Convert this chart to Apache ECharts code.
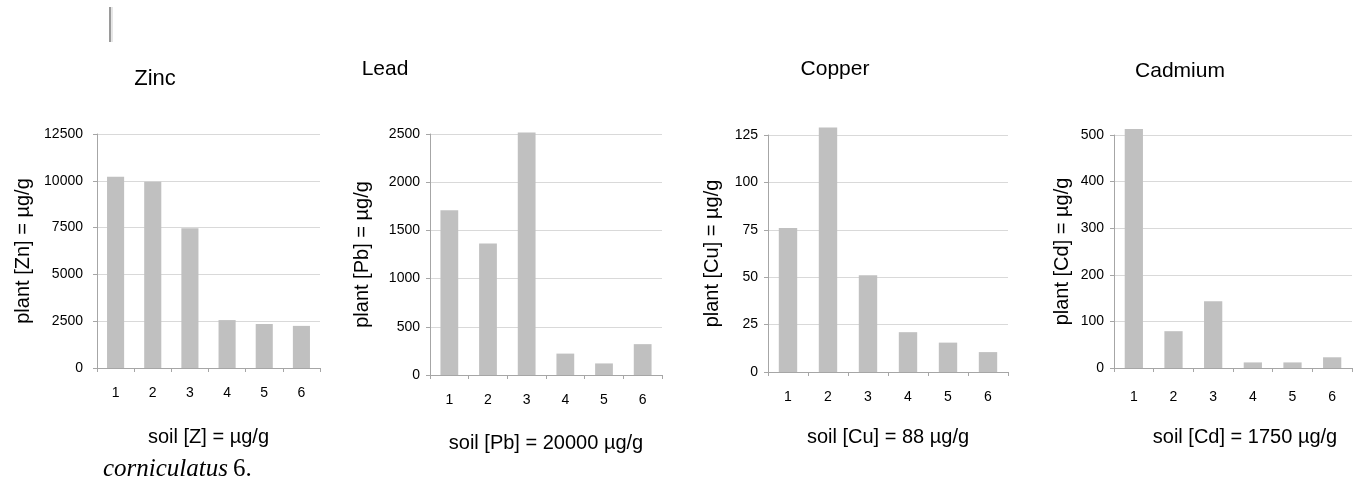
<!DOCTYPE html>
<html>
<head>
<meta charset="utf-8">
<script src="https://cdn.jsdelivr.net/npm/echarts@6/dist/echarts.min.js"></script>
<style>html,body{margin:0;padding:0;background:#fff}#c{width:1356px;height:485px}</style>
</head>
<body>
<div id="c"></div>
<script>
const categories = ['1', '2', '3', '4', '5', '6'];
const titles = ['Zinc', 'Lead', 'Copper', 'Cadmium'];
const yNames = ['plant [Zn] = µg/g', 'plant [Pb] = µg/g', 'plant [Cu] = µg/g', 'plant [Cd] = µg/g'];
const xNames = ['soil [Z] = µg/g', 'soil [Pb] = 20000 µg/g', 'soil [Cu] = 88 µg/g', 'soil [Cd] = 1750 µg/g'];
const zinc = [10220, 9950, 7460, 2560, 2350, 2250];
const lead = [1710, 1365, 2515, 222, 120, 320];
const copper = [76, 129, 51, 21, 15.5, 10.5];
const cadmium = [513, 79, 143, 12, 12, 23];
const yMax = [12500, 2500, 125, 500];
const yStep = [2500, 500, 25, 100];

const seriesData = [zinc, lead, copper, cadmium];
const FONT = '"Liberation Sans", Arial, Helvetica, sans-serif';

const grids = [
  {left: 97, top: 134, width: 223, height: 234},
  {left: 430, top: 134, width: 232, height: 241},
  {left: 768, top: 135, width: 240, height: 237},
  {left: 1114, top: 135, width: 238, height: 233}
];
const yNameGap = [64, 58, 46, 42];
const xNameGap = [59, 58, 55, 59];
const xLabelMargin = [18, 18, 18, 22];
const xNamePad = [[0,0,0,0],[0,0,0,0],[0,0,0,0],[0,0,0,24]];
const titlePos = [[155, 79], [385, 69], [835, 69], [1180, 71]];
const titleSize = [22, 21, 21, 21];

const axisColor = '#a6a6a6';
const option = {
  backgroundColor: '#ffffff',
  animation: false,
  grid: grids.map(g => Object.assign({containLabel: false}, g)),
  xAxis: grids.map((g, i) => ({
    type: 'category',
    gridIndex: i,
    data: categories,
    name: xNames[i],
    nameLocation: 'middle',
    nameGap: xNameGap[i],
    nameTextStyle: {fontFamily: FONT, fontSize: 20, color: '#000', padding: xNamePad[i]},
    axisLine: {show: true, lineStyle: {color: axisColor, width: 1}},
    axisTick: {show: true, length: 4, lineStyle: {color: axisColor}},
    axisLabel: {fontFamily: FONT, fontSize: 14, color: '#000', margin: xLabelMargin[i]},
    splitLine: {show: false}
  })),
  yAxis: grids.map((g, i) => ({
    type: 'value',
    gridIndex: i,
    min: 0,
    max: yMax[i],
    interval: yStep[i],
    name: yNames[i],
    nameLocation: 'middle',
    nameGap: yNameGap[i],
    nameTextStyle: {fontFamily: FONT, fontSize: 20, color: '#000'},
    axisLine: {show: true, lineStyle: {color: axisColor, width: 1}},
    axisTick: {show: true, length: 4, lineStyle: {color: axisColor}},
    axisLabel: {fontFamily: FONT, fontSize: 14, color: '#000', margin: i === 0 ? 14 : 10, formatter: v => String(v)},
    splitLine: {show: true, lineStyle: {color: '#d9d9d9', width: 1}}
  })),
  series: seriesData.map((d, i) => ({
    type: 'bar',
    xAxisIndex: i,
    yAxisIndex: i,
    data: d,
    barWidth: '46%',
    clip: false,
    itemStyle: {color: '#c0c0c0'}
  })),
  graphic: [
    ...titles.map((t, i) => ({
      type: 'text',
      x: titlePos[i][0],
      y: titlePos[i][1],
      style: {text: t, fontFamily: FONT, fontSize: titleSize[i], fill: '#000', textAlign: 'center', textVerticalAlign: 'middle'}
    })),
    {type: 'rect', shape: {x: 109, y: 7, width: 2, height: 35}, style: {fill: '#9a9a9a'}},
    {type: 'rect', shape: {x: 111, y: 7, width: 2, height: 35}, style: {fill: '#e6e6e6'}},
    {type: 'text', x: 103, y: 482, style: {text: 'corniculatus', fontFamily: '"Liberation Serif", "Times New Roman", serif', fontStyle: 'italic', fontSize: 25, fill: '#000', textAlign: 'left', textVerticalAlign: 'bottom'}},
    {type: 'text', x: 233, y: 482, style: {text: '6.', fontFamily: '"Liberation Serif", "Times New Roman", serif', fontSize: 25, fill: '#000', textAlign: 'left', textVerticalAlign: 'bottom'}}
  ]
};
const chart = echarts.init(document.getElementById('c'), null, {renderer: 'canvas', width: 1356, height: 485});
chart.setOption(option);
</script>
</body>
</html>
